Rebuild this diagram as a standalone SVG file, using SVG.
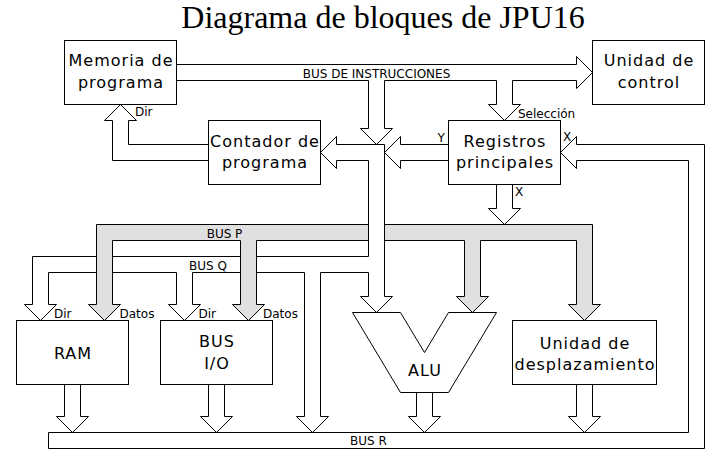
<svg xmlns="http://www.w3.org/2000/svg" width="720" height="464" viewBox="0 0 720 464">
<style>
.box{fill:#fff;stroke:#000;stroke-width:1}
.ln{fill:none;stroke:#000;stroke-width:1;stroke-linejoin:miter}
.wf{fill:#fff;stroke:#000;stroke-width:1}
.bp{fill:#e0e0e0;stroke:#000;stroke-width:1}
.big{font-family:"DejaVu Sans","Liberation Sans",sans-serif;font-size:16px;letter-spacing:1px;text-anchor:middle;fill:#000}
.sm{font-family:"DejaVu Sans","Liberation Sans",sans-serif;font-size:12px;fill:#000}
.title{font-family:"Liberation Serif","Times New Roman",serif;font-size:32px;text-anchor:middle;fill:#000}
</style>
<rect width="720" height="464" fill="#fff"/>
<text class="title" x="383" y="28">Diagrama de bloques de JPU16</text>

<g id="connectors">
  <!-- Bus R -->
  <path class="wf" d="M48.5,432.5 H688.5 V160.5 H576.5 V168.5 L560.5,152.5 L576.5,136.5 V144.5 H704.5 V448.5 H48.5 Z"/>
  <!-- instruction bus, control arrow, seleccion branch, junction input -->
  <path class="ln" d="M176.5,64.5 H576.5 V56.5 L592.5,72.5 L576.5,88.5 V80.5 H512.5 V104.5 H520.5 L504.5,120.5 L488.5,104.5 H496.5 V80.5 H384.5 V128.5 H392.5 L376.5,144.5 L360.5,128.5 H368.5 V80.5 H176.5"/>
  <!-- Y arrow -->
  <path class="ln" d="M448.5,144.5 H400.5 V136.5 L384.5,152.5 L400.5,168.5 V160.5 H448.5"/>
  <!-- junction, contador arrow, ALU left input, bus Q -->
  <path class="ln" d="M368.5,296.5 H360.5 L376.5,312.5 L392.5,296.5 H384.5 V144.5 H336.5 V136.5 L320.5,152.5 L336.5,168.5 V160.5 H368.5 V256.5 H32.5 V304.5 H24.5 L40.5,320.5 L56.5,304.5 H48.5 V272.5 H176.5 V304.5 H168.5 L184.5,320.5 L200.5,304.5 H192.5 V272.5 H304.5 V416.5 H296.5 L312.5,432.5 L328.5,416.5 H320.5 V272.5 H368.5 V296.5"/>
  <!-- Dir to memoria -->
  <path class="ln" d="M208.5,144.5 H128.5 V120.5 H136.5 L120.5,104.5 L104.5,120.5 H112.5 V160.5 H208.5"/>
  <!-- X out of registros -->
  <path class="wf" d="M496.5,184.5 V208.5 H488.5 L504.5,224.5 L520.5,208.5 H512.5 V184.5"/>
  <!-- outputs to bus R -->
  <path class="wf" d="M64.5,384.5 V416.5 H56.5 L72.5,432.5 L88.5,416.5 H80.5 V384.5"/>
  <path class="wf" d="M208.5,384.5 V416.5 H200.5 L216.5,432.5 L232.5,416.5 H224.5 V384.5"/>
  <path class="wf" d="M416.5,392.5 V416.5 H408.5 L424.5,432.5 L440.5,416.5 H432.5 V392.5"/>
  <path class="wf" d="M576.5,384.5 V416.5 H568.5 L584.5,432.5 L600.5,416.5 H592.5 V384.5"/>
  <!-- Bus P -->
  <path class="bp" d="M96.5,224.5 H592.5 V304.5 H600.5 L584.5,320.5 L568.5,304.5 H576.5 V240.5 H480.5 V296.5 H488.5 L472.5,312.5 L456.5,296.5 H464.5 V240.5 H256.5 V304.5 H264.5 L248.5,320.5 L232.5,304.5 H240.5 V240.5 H112.5 V304.5 H120.5 L104.5,320.5 L88.5,304.5 H96.5 Z"/>
  <!-- central shaft crossing over bus P -->
  <rect x="369" y="223" width="15" height="19" fill="#fff"/>
  <path class="ln" d="M368.5,222 V243 M384.5,222 V243"/>
  <!-- labels -->
  <text class="sm" x="376.5" y="77.5" text-anchor="middle">BUS DE INSTRUCCIONES</text>
  <text class="sm" x="518" y="117.5">Selección</text>
  <text class="sm" x="437.5" y="142">Y</text>
  <text class="sm" x="563" y="141">X</text>
  <text class="sm" x="515" y="196">X</text>
  <text class="sm" x="135" y="116">Dir</text>
  <text class="sm" x="224.5" y="237.5" text-anchor="middle">BUS P</text>
  <text class="sm" x="208" y="269.5" text-anchor="middle">BUS Q</text>
  <text class="sm" x="54" y="317.5">Dir</text>
  <text class="sm" x="119.5" y="317.5">Datos</text>
  <text class="sm" x="198.5" y="317.5">Dir</text>
  <text class="sm" x="263" y="317.5">Datos</text>
  <text class="sm" x="350" y="444.5">BUS R</text>
</g>

<g id="memoria">
  <rect class="box" x="64.5" y="40.5" width="112" height="64"/>
  <text class="big" x="121" y="66">Memoria de</text>
  <text class="big" x="121" y="88">programa</text>
</g>
<g id="control">
  <rect class="box" x="592.5" y="40.5" width="112" height="64"/>
  <text class="big" x="649" y="66">Unidad de</text>
  <text class="big" x="649" y="88">control</text>
</g>
<g id="contador">
  <rect class="box" x="208.5" y="120.5" width="112" height="64"/>
  <text class="big" x="265" y="146.5">Contador de</text>
  <text class="big" x="265" y="168">programa</text>
</g>
<g id="registros">
  <rect class="box" x="448.5" y="120.5" width="112" height="64"/>
  <text class="big" x="505" y="146.5">Registros</text>
  <text class="big" x="505" y="168">principales</text>
</g>
<g id="ram">
  <rect class="box" x="16.5" y="320.5" width="112" height="64"/>
  <text class="big" x="73" y="358.5">RAM</text>
</g>
<g id="busio">
  <rect class="box" x="160.5" y="320.5" width="112" height="64"/>
  <text class="big" x="217" y="347">BUS</text>
  <text class="big" x="217" y="368.5">I/O</text>
</g>
<g id="alu">
  <path class="box" d="M352.5,312.5 H400.5 L424.5,352.5 L448.5,312.5 H496.5 L448.5,392.5 H400.5 Z"/>
  <text class="big" x="425" y="375.5">ALU</text>
</g>
<g id="desplazamiento">
  <rect class="box" x="512.5" y="320.5" width="144" height="64"/>
  <text class="big" x="585" y="348.5">Unidad de</text>
  <text class="big" x="585" y="370">desplazamiento</text>
</g>
</svg>
